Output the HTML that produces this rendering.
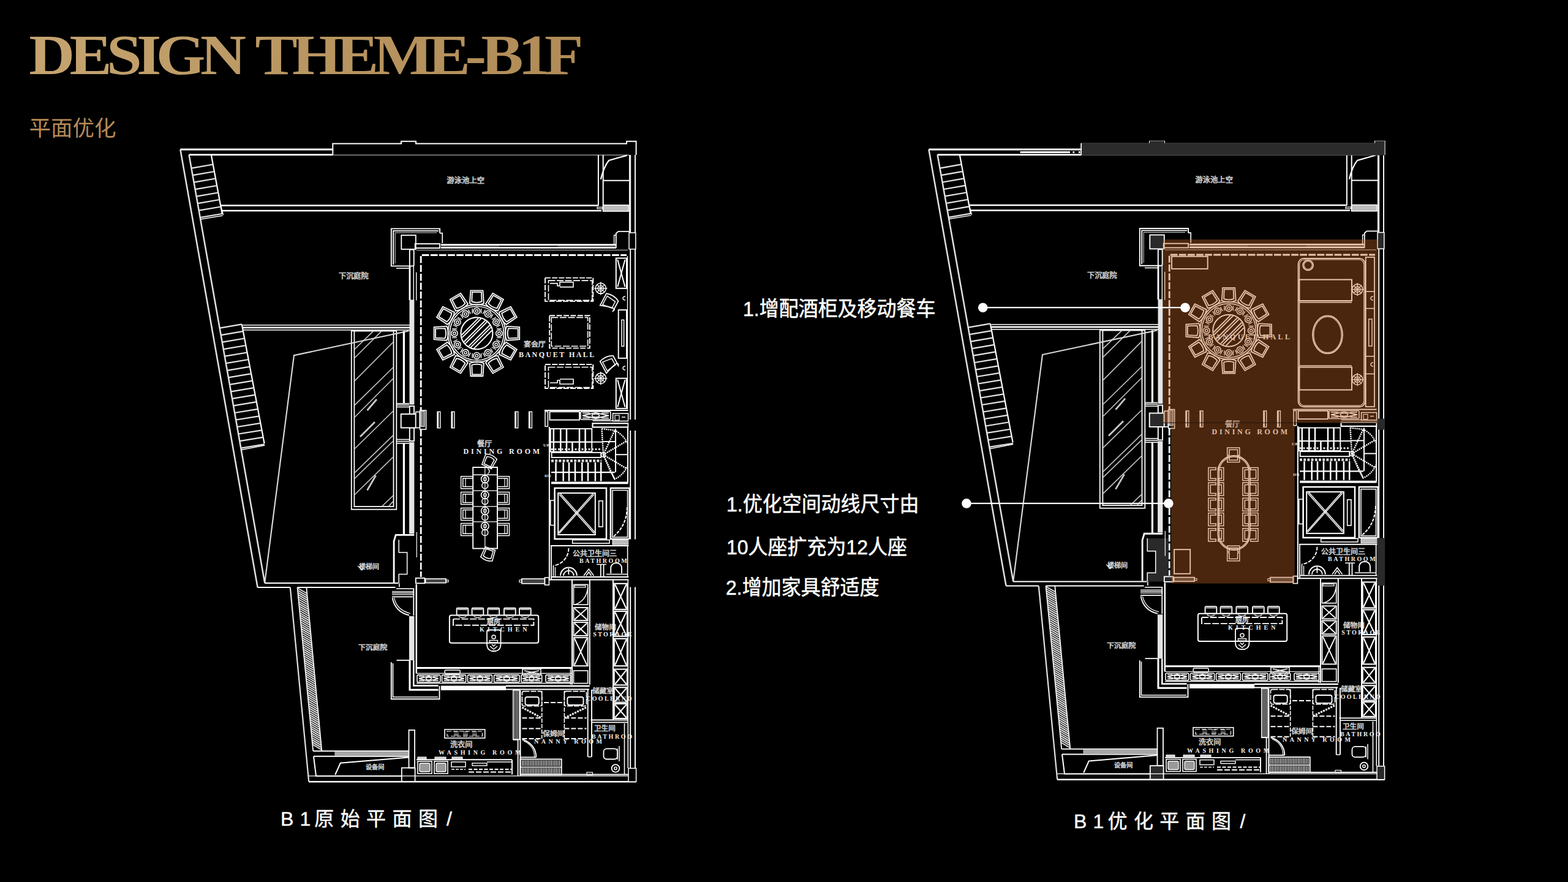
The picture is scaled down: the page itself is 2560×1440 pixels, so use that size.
<!DOCTYPE html><html><head><meta charset="utf-8"><title>DESIGN THEME-B1F</title><style>html,body{margin:0;padding:0;background:#000}body{width:2560px;height:1440px;overflow:hidden;position:relative;font-family:"Liberation Sans",sans-serif}svg{position:absolute;left:0;top:0}</style></head><body><svg width="2560" height="1440" viewBox="0 0 2560 1440"><defs><linearGradient id="gold1" x1="0" x2="1" y1="0" y2="0"><stop offset="0" stop-color="#c5a470"/><stop offset="1" stop-color="#bc9a65"/></linearGradient><linearGradient id="gold2" x1="0" x2="1" y1="0" y2="0"><stop offset="0" stop-color="#bb9863"/><stop offset="1" stop-color="#b08b57"/></linearGradient><g id="shell" fill="none" stroke="#fff"><path d="M294.4 244L544 244" stroke-width="2.8"/>
<path d="M543.3 253L543.3 234.6L655 234.6L655 230.8L679 230.8L679 234.6L1023 234.6L1023 230.8L1038.6 230.8L1038.6 253" stroke-width="2"/>
<path d="M308.6 252.6L543.3 252.6" stroke-width="2.8"/>
<path d="M543.3 253.2L1027.5 253.2" stroke-width="1.2" stroke="#aaa"/>
<path d="M294.4 244L420.6 959" stroke-width="2.5" stroke="#e2e2e2"/>
<path d="M308.6 252.6L432.3 952" stroke-width="2.5" stroke="#e2e2e2"/>
<path d="M344.8 252.6L362.8 349.7" stroke-width="2.2"/>
<path d="M312.5 274.7L347.7 268.5" stroke-width="2.2" stroke="#e6e6e6"/>
<path d="M314.5 286.2L349.9 280" stroke-width="2.2" stroke="#e6e6e6"/>
<path d="M316.6 297.7L352 291.5" stroke-width="2.2" stroke="#e6e6e6"/>
<path d="M318.6 309.2L354.1 303" stroke-width="2.2" stroke="#e6e6e6"/>
<path d="M320.6 320.7L356.3 314.5" stroke-width="2.2" stroke="#e6e6e6"/>
<path d="M322.7 332.2L358.4 326" stroke-width="2.2" stroke="#e6e6e6"/>
<path d="M324.7 343.7L360.5 337.5" stroke-width="2.2" stroke="#e6e6e6"/>
<path d="M326.7 355.2L362.7 349" stroke-width="2.2" stroke="#e6e6e6"/>
<path d="M327.2 358L363.5 352" stroke-width="1.5"/>
<path d="M360.5 336L364.5 351" stroke-width="1.5"/>
<path d="M361 335.4L977 335.4" stroke-width="2.5"/>
<path d="M362.5 343.9L982 343.9" stroke-width="2.5"/>
<path d="M394.8 529.4L431.6 724" stroke-width="2.2"/>
<path d="M358.7 535.6L394.8 529.4" stroke-width="2.2" stroke="#e6e6e6"/>
<path d="M360.7 547.1L397 540.9" stroke-width="2.2" stroke="#e6e6e6"/>
<path d="M362.7 558.7L399.2 552.5" stroke-width="2.2" stroke="#e6e6e6"/>
<path d="M364.8 570.2L401.3 564" stroke-width="2.2" stroke="#e6e6e6"/>
<path d="M366.8 581.7L403.5 575.5" stroke-width="2.2" stroke="#e6e6e6"/>
<path d="M368.9 593.2L405.7 587" stroke-width="2.2" stroke="#e6e6e6"/>
<path d="M370.9 604.8L407.9 598.6" stroke-width="2.2" stroke="#e6e6e6"/>
<path d="M372.9 616.3L410.1 610.1" stroke-width="2.2" stroke="#e6e6e6"/>
<path d="M375 627.8L412.2 621.6" stroke-width="2.2" stroke="#e6e6e6"/>
<path d="M377 639.4L414.4 633.2" stroke-width="2.2" stroke="#e6e6e6"/>
<path d="M379.1 650.9L416.6 644.7" stroke-width="2.2" stroke="#e6e6e6"/>
<path d="M381.1 662.4L418.8 656.2" stroke-width="2.2" stroke="#e6e6e6"/>
<path d="M383.1 674L421 667.8" stroke-width="2.2" stroke="#e6e6e6"/>
<path d="M385.2 685.5L423.1 679.3" stroke-width="2.2" stroke="#e6e6e6"/>
<path d="M387.2 697L425.3 690.8" stroke-width="2.2" stroke="#e6e6e6"/>
<path d="M389.3 708.5L427.5 702.3" stroke-width="2.2" stroke="#e6e6e6"/>
<path d="M391.3 720.1L429.7 713.9" stroke-width="2.2" stroke="#e6e6e6"/>
<path d="M393.3 731.6L431.8 725.4" stroke-width="2.2" stroke="#e6e6e6"/>
<path d="M393.8 734.5L432.3 727" stroke-width="1.5"/>
<path d="M396.4 530.8L669 530.8" stroke-width="1.5"/>
<path d="M396.4 534.8L669 534.8" stroke-width="2.8"/>
<path d="M396.4 538.8L669 538.8" stroke-width="1.5"/>
<rect x="573.8" y="540.3" width="73.5" height="291.4" stroke-width="1.8"/>
<rect x="578.4" y="540.3" width="64.1" height="286.7" stroke-width="1.8"/>
<path d="M579.2 570L609.5 540.6" stroke-width="1.6" stroke="#c8c8c8"/>
<path d="M579.2 584L623 540.6" stroke-width="1.6" stroke="#c8c8c8"/>
<path d="M579.2 621.6L642 558.5" stroke-width="1.6" stroke="#c8c8c8"/>
<path d="M579.2 661.4L642 599.7" stroke-width="1.6" stroke="#c8c8c8"/>
<path d="M579.2 681L642 618" stroke-width="1.6" stroke="#c8c8c8"/>
<path d="M579.2 732.5L642 671" stroke-width="1.6" stroke="#c8c8c8"/>
<path d="M579.2 771.6L642 710.6" stroke-width="1.6" stroke="#c8c8c8"/>
<path d="M579.2 781L642 720" stroke-width="1.6" stroke="#c8c8c8"/>
<path d="M579.2 807.5L642 746" stroke-width="1.6" stroke="#c8c8c8"/>
<path d="M623.8 826.5L642 809" stroke-width="1.6" stroke="#c8c8c8"/>
<path d="M634.7 826.5L642 818.4" stroke-width="1.6" stroke="#c8c8c8"/>
<path d="M599.5 670L615 652" stroke-width="2.8" stroke="#c8c8c8"/>
<path d="M588 713L612 689" stroke-width="2.8" stroke="#c8c8c8"/>
<path d="M599.5 800.5L613.6 776.2" stroke-width="2.8" stroke="#c8c8c8"/>
<path d="M667.5 540.3L480 580.2L432.3 951" stroke-width="2.1" stroke="#dcdcdc"/>
<path d="M420.6 959L473.8 959" stroke-width="2"/>
<path d="M432.3 952L650.3 952" stroke-width="2"/>
<path d="M485.5 959L645.6 959" stroke-width="2"/>
<path d="M473.8 959L504.2 1276.2" stroke-width="2.2" stroke="#e2e2e2"/>
<path d="M485.5 959L511.2 1226.2" stroke-width="1.8"/>
<path d="M500.3 959L525.3 1226.2" stroke-width="1.8"/>
<path d="M485.6 960L501.2 969" stroke-width="1.9" stroke="#e4e4e4"/>
<path d="M486 963.7L501.6 972.7" stroke-width="1.9" stroke="#e4e4e4"/>
<path d="M486.3 967.4L501.9 976.4" stroke-width="1.9" stroke="#e4e4e4"/>
<path d="M486.7 971.1L502.3 980.1" stroke-width="1.9" stroke="#e4e4e4"/>
<path d="M487 974.8L502.6 983.8" stroke-width="1.9" stroke="#e4e4e4"/>
<path d="M487.4 978.5L503 987.5" stroke-width="1.9" stroke="#e4e4e4"/>
<path d="M487.7 982.2L503.3 991.2" stroke-width="1.9" stroke="#e4e4e4"/>
<path d="M488.1 985.9L503.7 994.9" stroke-width="1.9" stroke="#e4e4e4"/>
<path d="M488.4 989.6L504 998.6" stroke-width="1.9" stroke="#e4e4e4"/>
<path d="M488.8 993.3L504.3 1002.3" stroke-width="1.9" stroke="#e4e4e4"/>
<path d="M489.2 997L504.7 1006" stroke-width="1.9" stroke="#e4e4e4"/>
<path d="M489.5 1000.7L505 1009.7" stroke-width="1.9" stroke="#e4e4e4"/>
<path d="M489.9 1004.4L505.4 1013.4" stroke-width="1.9" stroke="#e4e4e4"/>
<path d="M490.2 1008.1L505.7 1017.1" stroke-width="1.9" stroke="#e4e4e4"/>
<path d="M490.6 1011.8L506.1 1020.8" stroke-width="1.9" stroke="#e4e4e4"/>
<path d="M490.9 1015.5L506.4 1024.5" stroke-width="1.9" stroke="#e4e4e4"/>
<path d="M491.3 1019.2L506.8 1028.2" stroke-width="1.9" stroke="#e4e4e4"/>
<path d="M491.7 1022.9L507.1 1031.9" stroke-width="1.9" stroke="#e4e4e4"/>
<path d="M492 1026.6L507.5 1035.6" stroke-width="1.9" stroke="#e4e4e4"/>
<path d="M492.4 1030.3L507.8 1039.3" stroke-width="1.9" stroke="#e4e4e4"/>
<path d="M492.7 1034L508.2 1043" stroke-width="1.9" stroke="#e4e4e4"/>
<path d="M493.1 1037.7L508.5 1046.7" stroke-width="1.9" stroke="#e4e4e4"/>
<path d="M493.4 1041.4L508.8 1050.4" stroke-width="1.9" stroke="#e4e4e4"/>
<path d="M493.8 1045.1L509.2 1054.1" stroke-width="1.9" stroke="#e4e4e4"/>
<path d="M494.1 1048.8L509.5 1057.8" stroke-width="1.9" stroke="#e4e4e4"/>
<path d="M494.5 1052.5L509.9 1061.5" stroke-width="1.9" stroke="#e4e4e4"/>
<path d="M494.9 1056.2L510.2 1065.2" stroke-width="1.9" stroke="#e4e4e4"/>
<path d="M495.2 1059.9L510.6 1068.9" stroke-width="1.9" stroke="#e4e4e4"/>
<path d="M495.6 1063.6L510.9 1072.6" stroke-width="1.9" stroke="#e4e4e4"/>
<path d="M495.9 1067.3L511.3 1076.3" stroke-width="1.9" stroke="#e4e4e4"/>
<path d="M496.3 1071L511.6 1080" stroke-width="1.9" stroke="#e4e4e4"/>
<path d="M496.6 1074.7L512 1083.7" stroke-width="1.9" stroke="#e4e4e4"/>
<path d="M497 1078.4L512.3 1087.4" stroke-width="1.9" stroke="#e4e4e4"/>
<path d="M497.4 1082.1L512.7 1091.1" stroke-width="1.9" stroke="#e4e4e4"/>
<path d="M497.7 1085.8L513 1094.8" stroke-width="1.9" stroke="#e4e4e4"/>
<path d="M498.1 1089.5L513.3 1098.5" stroke-width="1.9" stroke="#e4e4e4"/>
<path d="M498.4 1093.2L513.7 1102.2" stroke-width="1.9" stroke="#e4e4e4"/>
<path d="M498.8 1096.9L514 1105.9" stroke-width="1.9" stroke="#e4e4e4"/>
<path d="M499.1 1100.6L514.4 1109.6" stroke-width="1.9" stroke="#e4e4e4"/>
<path d="M499.5 1104.3L514.7 1113.3" stroke-width="1.9" stroke="#e4e4e4"/>
<path d="M499.8 1108L515.1 1117" stroke-width="1.9" stroke="#e4e4e4"/>
<path d="M500.2 1111.7L515.4 1120.7" stroke-width="1.9" stroke="#e4e4e4"/>
<path d="M500.6 1115.4L515.8 1124.4" stroke-width="1.9" stroke="#e4e4e4"/>
<path d="M500.9 1119.1L516.1 1128.1" stroke-width="1.9" stroke="#e4e4e4"/>
<path d="M501.3 1122.8L516.5 1131.8" stroke-width="1.9" stroke="#e4e4e4"/>
<path d="M501.6 1126.5L516.8 1135.5" stroke-width="1.9" stroke="#e4e4e4"/>
<path d="M502 1130.2L517.1 1139.2" stroke-width="1.9" stroke="#e4e4e4"/>
<path d="M502.3 1133.9L517.5 1142.9" stroke-width="1.9" stroke="#e4e4e4"/>
<path d="M502.7 1137.6L517.8 1146.6" stroke-width="1.9" stroke="#e4e4e4"/>
<path d="M503.1 1141.3L518.2 1150.3" stroke-width="1.9" stroke="#e4e4e4"/>
<path d="M503.4 1145L518.5 1154" stroke-width="1.9" stroke="#e4e4e4"/>
<path d="M503.8 1148.7L518.9 1157.7" stroke-width="1.9" stroke="#e4e4e4"/>
<path d="M504.1 1152.4L519.2 1161.4" stroke-width="1.9" stroke="#e4e4e4"/>
<path d="M504.5 1156.1L519.6 1165.1" stroke-width="1.9" stroke="#e4e4e4"/>
<path d="M504.8 1159.8L519.9 1168.8" stroke-width="1.9" stroke="#e4e4e4"/>
<path d="M505.2 1163.5L520.3 1172.5" stroke-width="1.9" stroke="#e4e4e4"/>
<path d="M505.5 1167.2L520.6 1176.2" stroke-width="1.9" stroke="#e4e4e4"/>
<path d="M505.9 1170.9L521 1179.9" stroke-width="1.9" stroke="#e4e4e4"/>
<path d="M506.3 1174.6L521.3 1183.6" stroke-width="1.9" stroke="#e4e4e4"/>
<path d="M506.6 1178.3L521.6 1187.3" stroke-width="1.9" stroke="#e4e4e4"/>
<path d="M507 1182L522 1191" stroke-width="1.9" stroke="#e4e4e4"/>
<path d="M507.3 1185.7L522.3 1194.7" stroke-width="1.9" stroke="#e4e4e4"/>
<path d="M507.7 1189.4L522.7 1198.4" stroke-width="1.9" stroke="#e4e4e4"/>
<path d="M508 1193.1L523 1202.1" stroke-width="1.9" stroke="#e4e4e4"/>
<path d="M508.4 1196.8L523.4 1205.8" stroke-width="1.9" stroke="#e4e4e4"/>
<path d="M508.8 1200.5L523.7 1209.5" stroke-width="1.9" stroke="#e4e4e4"/>
<path d="M509.1 1204.2L524.1 1213.2" stroke-width="1.9" stroke="#e4e4e4"/>
<path d="M509.5 1207.9L524.4 1216.9" stroke-width="1.9" stroke="#e4e4e4"/>
<path d="M509.8 1211.6L524.8 1220.6" stroke-width="1.9" stroke="#e4e4e4"/>
<path d="M510.2 1215.3L525.1 1224.3" stroke-width="1.9" stroke="#e4e4e4"/>
<path d="M504.2 1276.2L1038.6 1276.2" stroke-width="2.5"/>
<path d="M511.2 1226.2L667.5 1226.2" stroke-width="1.9"/>
<path d="M512 1234.8L667.5 1234.8" stroke-width="1.9"/>
<rect x="546.4" y="1227.2" width="121.1" height="6.6" stroke-width="0.1" fill="#a8a8a8"/>
<path d="M512 1234.8L516 1266.9L655 1266.9" stroke-width="2"/>
<path d="M547.2 1265L555.8 1245.8L667.5 1236.4" stroke-width="2"/>
<rect x="655.8" y="1253.6" width="21.8" height="22.4" stroke-width="1.8" style="fill:var(--pil)"/>
<rect x="667.5" y="1192" width="9.5" height="61.6" stroke-width="1.8"/>
<path d="M1029.2 253L1029.2 1254" stroke-width="1.9"/>
<path d="M1037 253L1037 1254" stroke-width="1.9"/>
<rect x="1027" y="380" width="10.8" height="26.7" stroke-width="1.5" style="fill:var(--pil)"/>
<rect x="1026" y="1254.4" width="12.6" height="21.8" stroke-width="1.5" style="fill:var(--pil)"/>
<path d="M976.9 253L976.9 335.6" stroke-width="2"/>
<path d="M984.7 253L984.7 345" stroke-width="2"/>
<path d="M1023.7 253.6L994 262Q986 272 980.8 292.7" stroke-width="2.2"/>
<path d="M984.7 294.7L1027.7 294.7" stroke-width="1.9"/>
<rect x="984.7" y="334.8" width="41.3" height="10.2" stroke-width="1.5" fill="#bdbdbd"/>
<rect x="975" y="338.3" width="9" height="2.5" stroke-width="1.2"/>
<path d="M1027.7 253L1027.7 380" stroke-width="1.5"/>
<path d="M718.1 380.6L718.1 373.4L638.8 373.4L638.8 434.4L668 434.4" stroke-width="1.9"/>
<path d="M716 376.9L642.2 376.9L642.2 432" stroke-width="1.8"/>
<path d="M713 379.8L645.2 379.8L645.2 430" stroke-width="1.2" stroke="#bbb"/>
<path d="M718.1 380.6L722.2 380.6L722.2 397" stroke-width="1.6"/>
<rect x="655.3" y="384" width="23.5" height="22.9" stroke-width="1.8" style="fill:var(--pil)"/>
<rect x="677.8" y="398.1" width="40.3" height="6.9" stroke-width="1.9"/>
<path d="M720 399.7L1005.8 399.7" stroke-width="3"/>
<path d="M720 404.3L1005.8 404.3" stroke-width="3"/>
<path d="M815 402L910.5 402" stroke-width="1.5" stroke="#000"/>
<path d="M680 408.4L1025 408.4" stroke-width="1.2" stroke="#aaa"/>
<rect x="668.8" y="407.5" width="6.9" height="26.9" stroke-width="1.9" rx="2"/>
<path d="M646.9 438L668 438" stroke-width="1.6"/>
<path d="M669 434L669 490" stroke-width="2.8"/>
<path d="M675.3 434L675.3 490" stroke-width="1.4"/>
<path d="M679.7 444.4L679.7 490.6" stroke-width="1.4"/>
<rect x="668.6" y="489.4" width="7.7" height="171.2" stroke-width="0.1" fill="#e4e4e4"/>
<path d="M659.4 540.3L659.4 658.8" stroke-width="3.2"/>
<path d="M687.2 418L687.2 670" stroke-width="2.8" stroke-dasharray="11.5 3"/>
<path d="M687.2 701L687.2 942" stroke-width="2.8" stroke-dasharray="11.5 3"/>
<path d="M688.8 416.6L1023 416.6" stroke-width="3" stroke-dasharray="11.7 2.4"/>
<path d="M1005.8 405L1005.8 381L1009.5 377.8L1027 377.8" stroke-width="1.8"/>
<path d="M1002.6 399.5L1002.6 384L1005.8 384" stroke-width="1.4"/>
<path d="M646.9 658.8L668 658.8" stroke-width="1.6"/>
<path d="M646.9 661.3L668 661.3" stroke-width="1.6"/>
<path d="M646.9 664.4L668 664.4" stroke-width="1.6"/>
<rect x="668.8" y="663" width="7.2" height="13.2" stroke-width="1.9"/>
<rect x="668.8" y="698.4" width="7.2" height="21.6" stroke-width="1.9"/>
<rect x="654.7" y="676" width="24" height="22.4" stroke-width="1.9" style="fill:var(--pil)"/>
<rect x="678.8" y="672.5" width="6.5" height="25.9" stroke-width="1.6" style="fill:var(--pil)"/>
<rect x="685.6" y="670" width="10" height="31" stroke-width="1.6"/>
<rect x="687.2" y="671.3" width="5.9" height="25" stroke-width="1" fill="#777"/>
<path d="M646.9 717.5L668 717.5" stroke-width="1.6"/>
<path d="M646.9 720.6L668 720.6" stroke-width="1.6"/>
<path d="M646.9 723.8L668 723.8" stroke-width="1.6"/>
<path d="M659.4 723.8L659.4 873.1" stroke-width="3.2"/>
<rect x="668.1" y="721.9" width="8.2" height="149.4" stroke-width="0.1" fill="#e4e4e4"/>
<path d="M676.2 873.4L646.2 873.4L643.1 883.8L643.1 951" stroke-width="2.8"/>
<path d="M651.25 881.25H685.5V952H651.25V937.5H664.7V901.9H651.25Z" stroke="none" style="fill:var(--pil)"/>
<path d="M651.2 881.2L651.2 901.9L664.7 901.9L664.7 937.5L651.2 937.5L651.2 952" stroke-width="1.5"/>
<path d="M680.3 868.8L680.3 910" stroke-width="1.2"/>
<rect x="678.8" y="943.8" width="14.6" height="8.5" stroke-width="1.8" style="fill:var(--pil)"/>
<rect x="694.7" y="945" width="33.4" height="6.6" stroke-width="1.6" fill="#444"/>
<rect x="728.1" y="947" width="3.9" height="3" stroke-width="1.2"/>
<rect x="851.9" y="945" width="37.5" height="7.8" stroke-width="1.6" fill="#444"/>
<rect x="848" y="947" width="3.9" height="3.6" stroke-width="1.2"/>
<rect x="889.4" y="943" width="7" height="12" stroke-width="1.6"/>
<path d="M651.9 952.2L651.9 958.4" stroke-width="1.6"/>
<path d="M646.9 961.2L676.2 961.2" stroke-width="1.6"/>
<path d="M640 965.6L676.2 965.6" stroke-width="1.4"/>
<path d="M640 968L676.2 968" stroke-width="1.4"/>
<path d="M640 970.6L676.2 970.6" stroke-width="1.4"/>
<path d="M640 974.4L673.8 974.4" stroke-width="1.6"/>
<path d="M675.3 961L675.3 1005" stroke-width="1.8"/>
<path d="M640.6 976Q645 999 668 1004.5" stroke-width="1.8"/>
<path d="M643.5 976Q648 996.5 670 1001.5" stroke-width="1.2"/>
<path d="M679.8 953.8L679.8 1099.4" stroke-width="2.5"/>
<rect x="668" y="1006" width="8.3" height="72" stroke-width="0.1" fill="#e4e4e4"/>
<path d="M647.5 1078L668 1078" stroke-width="1.8"/>
<path d="M638.8 1081.2L638.8 1141.2L717.5 1141.2L717.5 1120" stroke-width="1.9"/>
<path d="M641.5 1083L641.5 1138L715 1138" stroke-width="1.6"/>
<path d="M669 1078L669 1126.2L715.6 1126.2" stroke-width="3"/>
<path d="M675.3 1078L675.3 1119.4L715.6 1119.4" stroke-width="2.5"/>
<path d="M680 1099.4L934 1099.4" stroke-width="1.2"/>
<path d="M680 1090.6L934 1090.6" stroke-width="3"/>
<rect x="681" y="1101.9" width="37.8" height="11.8" stroke-width="1.6" rx="2"/>
<path d="M684 1107.8L699.9 1103.9L715.8 1107.8L699.9 1111.8Z" stroke-width="1.9"/>
<ellipse cx="699.9" cy="1107.8" rx="4.4" ry="2.2" stroke-width="1.6"/>
<path d="M684 1104.4L692.7 1104.4" stroke-width="1.6"/>
<path d="M707 1104.4L715.8 1104.4" stroke-width="1.6"/>
<path d="M684 1111.2L692.7 1111.2" stroke-width="1.6"/>
<path d="M707 1111.2L715.8 1111.2" stroke-width="1.6"/>
<rect x="721.6" y="1101.9" width="39" height="11.8" stroke-width="1.6" rx="2"/>
<path d="M724.6 1107.8L741.1 1103.9L757.6 1107.8L741.1 1111.8Z" stroke-width="1.9"/>
<ellipse cx="741.1" cy="1107.8" rx="4.6" ry="2.2" stroke-width="1.6"/>
<path d="M724.6 1104.4L733.7 1104.4" stroke-width="1.6"/>
<path d="M748.5 1104.4L757.6 1104.4" stroke-width="1.6"/>
<path d="M724.6 1111.2L733.7 1111.2" stroke-width="1.6"/>
<path d="M748.5 1111.2L757.6 1111.2" stroke-width="1.6"/>
<rect x="763.6" y="1101.9" width="39.8" height="11.8" stroke-width="1.6" rx="2"/>
<path d="M766.6 1107.8L783.5 1103.9L800.4 1107.8L783.5 1111.8Z" stroke-width="1.9"/>
<ellipse cx="783.5" cy="1107.8" rx="4.7" ry="2.2" stroke-width="1.6"/>
<path d="M766.6 1104.4L775.9 1104.4" stroke-width="1.6"/>
<path d="M791.1 1104.4L800.4 1104.4" stroke-width="1.6"/>
<path d="M766.6 1111.2L775.9 1111.2" stroke-width="1.6"/>
<path d="M791.1 1111.2L800.4 1111.2" stroke-width="1.6"/>
<rect x="806.6" y="1101.9" width="41.4" height="11.8" stroke-width="1.6" rx="2"/>
<path d="M809.6 1107.8L827.3 1103.9L845 1107.8L827.3 1111.8Z" stroke-width="1.9"/>
<ellipse cx="827.3" cy="1107.8" rx="5" ry="2.2" stroke-width="1.6"/>
<path d="M809.6 1104.4L819.3 1104.4" stroke-width="1.6"/>
<path d="M835.3 1104.4L845 1104.4" stroke-width="1.6"/>
<path d="M809.6 1111.2L819.3 1111.2" stroke-width="1.6"/>
<path d="M835.3 1111.2L845 1111.2" stroke-width="1.6"/>
<rect x="851" y="1101.9" width="33.7" height="11.8" stroke-width="1.6" rx="2"/>
<path d="M854 1107.8L867.9 1103.9L881.7 1107.8L867.9 1111.8Z" stroke-width="1.9"/>
<ellipse cx="867.9" cy="1107.8" rx="3.9" ry="2.2" stroke-width="1.6"/>
<path d="M854 1104.4L861.6 1104.4" stroke-width="1.6"/>
<path d="M874.1 1104.4L881.7 1104.4" stroke-width="1.6"/>
<path d="M854 1111.2L861.6 1111.2" stroke-width="1.6"/>
<path d="M874.1 1111.2L881.7 1111.2" stroke-width="1.6"/>
<rect x="891" y="1101.9" width="40.6" height="11.8" stroke-width="1.6" rx="2"/>
<path d="M894 1107.8L911.3 1103.9L928.6 1107.8L911.3 1111.8Z" stroke-width="1.9"/>
<ellipse cx="911.3" cy="1107.8" rx="4.8" ry="2.2" stroke-width="1.6"/>
<path d="M894 1104.4L903.5 1104.4" stroke-width="1.6"/>
<path d="M919.1 1104.4L928.6 1104.4" stroke-width="1.6"/>
<path d="M894 1111.2L903.5 1111.2" stroke-width="1.6"/>
<path d="M919.1 1111.2L928.6 1111.2" stroke-width="1.6"/>
<rect x="726.2" y="1094" width="25" height="6" stroke-width="1.5" rx="1.5"/>
<rect x="853" y="1092.5" width="30" height="9" stroke-width="1.5"/>
<path d="M856 1095L880 1100" stroke-width="1.5"/>
<path d="M880 1095L856 1100" stroke-width="1.5"/>
<path d="M680 1115.5L934 1115.5" stroke-width="1.6"/>
<rect x="720" y="1119.6" width="106" height="7.3" stroke-width="0.1" fill="#fff"/>
<path d="M826 1120L962.8 1120" stroke-width="2.5"/>
<path d="M826 1125.5L962 1125.5" stroke-width="1.8"/>
<rect x="714" y="672.2" width="4.8" height="26.5" stroke-width="1.4"/>
<path d="M715.2 673L715.2 698" stroke-width="2"/>
<rect x="737.1" y="672.2" width="4.8" height="26.5" stroke-width="1.4"/>
<path d="M738.3 673L738.3 698" stroke-width="2"/>
<rect x="840.9" y="672.2" width="4.8" height="26.5" stroke-width="1.4"/>
<path d="M842.1 673L842.1 698" stroke-width="2"/>
<rect x="863.6" y="672.2" width="4.8" height="26.5" stroke-width="1.4"/>
<path d="M864.8 673L864.8 698" stroke-width="2"/>
<path d="M888.8 670L1025.6 670" stroke-width="1.9"/>
<rect x="897.5" y="672.2" width="48.5" height="13.4" stroke-width="1.9"/>
<rect x="948" y="671.9" width="48.9" height="13.1" stroke-width="1.6" rx="2"/>
<path d="M951 678.5L972.5 673.9L993.9 678.5L972.5 683Z" stroke-width="1.9"/>
<ellipse cx="972.5" cy="678.5" rx="6" ry="2.5" stroke-width="1.6"/>
<path d="M951 674.4L962.8 674.4" stroke-width="1.6"/>
<path d="M982.1 674.4L993.9 674.4" stroke-width="1.6"/>
<path d="M951 682.5L962.8 682.5" stroke-width="1.6"/>
<path d="M982.1 682.5L993.9 682.5" stroke-width="1.6"/>
<rect x="1000.6" y="675" width="25" height="12.5" stroke-width="1.6"/>
<rect x="1004" y="678" width="7" height="8" stroke-width="1.2"/>
<path d="M1015 681L1021 681" stroke-width="1.5"/>
<rect x="890" y="671.9" width="4.4" height="24.4" stroke-width="1.5"/>
<path d="M967.5 686.9L1000 686.9" stroke-width="1.5"/>
<rect x="967.5" y="691.2" width="58.1" height="6.2" stroke-width="2.2"/>
<path d="M896.9 697L896.9 948" stroke-width="2"/>
<rect x="898.8" y="700" width="67.5" height="37.5" stroke-width="1.9"/>
<path d="M903.8 700L903.8 737.5" stroke-width="2.5"/>
<path d="M915.3 700L915.3 737.5" stroke-width="2.5"/>
<path d="M925 700L925 737.5" stroke-width="2.5"/>
<path d="M946 700L946 737.5" stroke-width="2.5"/>
<path d="M955.6 700L955.6 737.5" stroke-width="2.5"/>
<path d="M934.4 722L934.4 737.5" stroke-width="2.5"/>
<path d="M898.8 721.6L966.2 721.6" stroke-width="2.2"/>
<path d="M900 733.5L980 733.5" stroke-width="3" stroke="#ddd" stroke-dasharray="3 2.5"/>
<rect x="900.6" y="738.8" width="80.6" height="8.1" stroke-width="1.9"/>
<path d="M900 752.3L982 752.3" stroke-width="4.2" stroke="#ddd" stroke-dasharray="4 2.2"/>
<path d="M907.5 755L907.5 785.6" stroke-width="2.5"/>
<path d="M919.7 755L919.7 785.6" stroke-width="2.5"/>
<path d="M929 755L929 785.6" stroke-width="2.5"/>
<path d="M939 755L939 785.6" stroke-width="2.5"/>
<path d="M950.3 755L950.3 785.6" stroke-width="2.5"/>
<path d="M960 755L960 785.6" stroke-width="2.5"/>
<path d="M971.9 755L971.9 785.6" stroke-width="2.5"/>
<path d="M981.2 755L981.2 785.6" stroke-width="2.5"/>
<path d="M900 771.2L1003.8 771.2" stroke-width="2.2"/>
<path d="M900 788.4L1025.6 788.4" stroke-width="3.8"/>
<path d="M1005 700L1005 771" stroke-width="2"/>
<path d="M1025 697.5L1025 788" stroke-width="2"/>
<path d="M985 721L1005 721" stroke-width="1.9"/>
<path d="M1005 742.2L1025 742.2" stroke-width="1.9"/>
<path d="M966.2 721.6L985 721.6" stroke-width="1.9"/>
<path d="M985 742.5L982.5 700" stroke-width="2.5" stroke-dasharray="2.2 1.2"/>
<path d="M985 742.5L1003.6 702.6" stroke-width="2.5" stroke-dasharray="2.2 1.2"/>
<path d="M985 742.5L1023 720" stroke-width="2.5" stroke-dasharray="2.2 1.2"/>
<path d="M985 742.5L1023 765" stroke-width="2.5" stroke-dasharray="2.2 1.2"/>
<path d="M985 742.5L1003.6 782.4" stroke-width="2.5" stroke-dasharray="2.2 1.2"/>
<path d="M985 742.5L996.9 770" stroke-width="2.5" stroke-dasharray="2.2 1.2"/>
<path d="M982.5 700L1003.6 702.6A44 44 0 0 1 1025 725" stroke-width="2.2" stroke-dasharray="2.2 1.2"/>
<path d="M1025 760A44 44 0 0 1 1003.6 782.4L996.9 770" stroke-width="2.2" stroke-dasharray="2.2 1.2"/>
<circle cx="985" cy="742.5" r="3.5" stroke-width="1.6"/>
<rect x="905.6" y="796.9" width="84.4" height="83.1" stroke-width="2.5"/>
<rect x="911.2" y="805" width="60.6" height="68" stroke-width="2"/>
<path d="M913 807L970 871" stroke-width="1.5"/>
<path d="M915 806L972 870" stroke-width="1.5"/>
<path d="M970 807L913 871" stroke-width="1.5"/>
<path d="M968 806L911.5 870" stroke-width="1.5"/>
<rect x="977.7" y="817.7" width="6.3" height="42.3" stroke-width="1.6"/>
<rect x="898.8" y="817" width="6.9" height="40.5" stroke-width="1.5"/>
<rect x="996.9" y="796.9" width="30.7" height="83.1" stroke-width="2.5"/>
<rect x="1000" y="800.5" width="24.5" height="76.5" stroke-width="1.5"/>
<path d="M1024 828Q1023 860 1000 877" stroke-width="2" stroke-dasharray="5 2"/>
<rect x="934.7" y="881.5" width="60.3" height="5.5" stroke-width="1.6"/>
<rect x="1000" y="881" width="27" height="8" stroke-width="1" fill="#bbb"/>
<path d="M898.8 891L1027 891" stroke-width="1.9"/>
<path d="M900 891L900 946" stroke-width="1.8"/>
<path d="M928.4 895A28.4 28.4 0 0 1 903.4 923.5" stroke-width="1.9" stroke-dasharray="6 2"/>
<path d="M903.4 923.5L903.4 942" stroke-width="1.6"/>
<path d="M906.5 926L906.5 942" stroke-width="1.4"/>
<path d="M900 942L1027 942" stroke-width="2"/>
<path d="M896.4 946.6L1027 946.6" stroke-width="2"/>
<path d="M915 940A13.4 13.4 0 0 1 941.8 940" stroke-width="2"/>
<path d="M920 940A8.4 8.4 0 0 1 936.8 940" stroke-width="1.8"/>
<path d="M928.4 928L928.4 938" stroke-width="1.8"/>
<path d="M953 940L961.3 929L969.5 940M957 940L961.3 934L965.5 940" stroke-width="1.6"/>
<path d="M980.8 921.5L980.8 942" stroke-width="1.8"/>
<path d="M985.5 921.5L985.5 942" stroke-width="1.8"/>
<path d="M974 921.5L990 921.5" stroke-width="1.5"/>
<path d="M997.2 936V927A8.9 8 0 0 1 1015 927V936" stroke-width="1.9"/>
<path d="M990 937.5L1024 937.5" stroke-width="1.5"/>
<path d="M934 946.6L934 1117.7" stroke-width="2"/>
<path d="M962.8 946.6L962.8 1117.7" stroke-width="2"/>
<path d="M931.4 1090L931.4 1117.7" stroke-width="1.5"/>
<rect x="936.5" y="954.4" width="23.2" height="32.8" stroke-width="1.6"/>
<path d="M959.7 960Q957 981 939 987" stroke-width="1.6"/>
<rect x="938" y="956" width="18" height="3" stroke-width="1.2"/>
<rect x="936.5" y="991.9" width="23.2" height="21.1" stroke-width="1.9"/>
<path d="M938 993.4L958.2 1011.5" stroke-width="1.9"/>
<path d="M958.2 993.4L938 1011.5" stroke-width="1.9"/>
<rect x="936.5" y="1016" width="23.2" height="22" stroke-width="1.9"/>
<path d="M938 1017.5L958.2 1036.5" stroke-width="1.9"/>
<path d="M958.2 1017.5L938 1036.5" stroke-width="1.9"/>
<rect x="936.5" y="1041" width="23.2" height="46.2" stroke-width="1.9"/>
<path d="M938 1042.5L958.2 1085.7" stroke-width="1.9"/>
<path d="M958.2 1042.5L938 1085.7" stroke-width="1.9"/>
<rect x="936.5" y="1095" width="23.2" height="20.6" stroke-width="1.6"/>
<path d="M1001 946.6L1001 1175" stroke-width="2"/>
<path d="M1025.3 946.6L1025.3 1254" stroke-width="1.6"/>
<rect x="1002.7" y="952.8" width="21.3" height="42.2" stroke-width="2.1"/>
<path d="M1004.2 954.3L1022.5 993.5" stroke-width="2.1"/>
<path d="M1022.5 954.3L1004.2 993.5" stroke-width="2.1"/>
<rect x="1002.7" y="998" width="21.3" height="40.8" stroke-width="2.1"/>
<path d="M1004.2 999.5L1022.5 1037.2" stroke-width="2.1"/>
<path d="M1022.5 999.5L1004.2 1037.2" stroke-width="2.1"/>
<rect x="1002.7" y="1042.7" width="21.3" height="44.5" stroke-width="2.1"/>
<path d="M1004.2 1044.2L1022.5 1085.7" stroke-width="2.1"/>
<path d="M1022.5 1044.2L1004.2 1085.7" stroke-width="2.1"/>
<rect x="1002.7" y="1092.6" width="21.3" height="25.8" stroke-width="2.1"/>
<path d="M1004.2 1094.1L1022.5 1116.9" stroke-width="2.1"/>
<path d="M1022.5 1094.1L1004.2 1116.9" stroke-width="2.1"/>
<rect x="1002.7" y="1122.3" width="21.3" height="24.3" stroke-width="2.1"/>
<path d="M1004.2 1123.8L1022.5 1145.1" stroke-width="2.1"/>
<path d="M1022.5 1123.8L1004.2 1145.1" stroke-width="2.1"/>
<rect x="1002.7" y="1149" width="21.3" height="24" stroke-width="2.1"/>
<path d="M1004.2 1150.5L1022.5 1171.5" stroke-width="2.1"/>
<path d="M1022.5 1150.5L1004.2 1171.5" stroke-width="2.1"/>
<path d="M959.7 1126L959.7 1235.6" stroke-width="1.9"/>
<path d="M966 1126L966 1235.6" stroke-width="1.9"/>
<path d="M959.7 1235.6L966 1235.6" stroke-width="1.5"/>
<path d="M964.4 1175.5L1026 1175.5" stroke-width="1.9"/>
<path d="M966 1179.4L1026 1179.4" stroke-width="1.6"/>
<path d="M1019.5 1181L1019.5 1264" stroke-width="1.6"/>
<rect x="985.5" y="1222.3" width="22.5" height="17.2" stroke-width="1.8" rx="5"/>
<path d="M1008 1222L1008 1240" stroke-width="1.6"/>
<path d="M1011 1218L1011 1243" stroke-width="1.5"/>
<circle cx="1005" cy="1254.4" r="6.3" stroke-width="1.8"/>
<circle cx="1005" cy="1254.4" r="2.2" stroke-width="1.5"/>
<rect x="958" y="1261" width="9.5" height="4" stroke-width="1.2"/>
<path d="M849.5 1264.5L1026 1264.5" stroke-width="2"/>
<path d="M504 1266.9L1026 1266.9" stroke-width="1.2"/>
<rect x="837.8" y="1127" width="10.2" height="80.5" stroke-width="1.6"/>
<path d="M840.3 1127L840.3 1207.5" stroke-width="1.2" stroke="#ccc"/>
<path d="M842.8 1127L842.8 1207.5" stroke-width="1.2" stroke="#ccc"/>
<path d="M845.3 1127L845.3 1207.5" stroke-width="1.2" stroke="#ccc"/>
<path d="M837.8 1207.5L845.6 1207.5L845.6 1266.9" stroke-width="1.8"/>
<path d="M849.5 1127L849.5 1266.9" stroke-width="1.9"/>
<rect x="852.5" y="1128.6" width="32.2" height="24.2" stroke-width="1.6" rx="3" stroke-dasharray="9 2"/>
<rect x="857.5" y="1138" width="22.2" height="13" stroke-width="1.9" rx="3"/>
<path d="M852.5 1172.3L884.7 1172.3" stroke-width="2" stroke-dasharray="8 3"/>
<path d="M852.5 1189.5L884.7 1189.5" stroke-width="2" stroke-dasharray="8 3"/>
<path d="M852.5 1205.9L884.7 1205.9" stroke-width="2" stroke-dasharray="8 3"/>
<rect x="921.4" y="1128.6" width="36.1" height="24.2" stroke-width="1.6" rx="3" stroke-dasharray="9 2"/>
<rect x="926.4" y="1138" width="26.1" height="13" stroke-width="1.9" rx="3"/>
<path d="M921.4 1172.3L957.5 1172.3" stroke-width="2" stroke-dasharray="8 3"/>
<path d="M921.4 1189.5L957.5 1189.5" stroke-width="2" stroke-dasharray="8 3"/>
<path d="M921.4 1205.9L957.5 1205.9" stroke-width="2" stroke-dasharray="8 3"/>
<path d="M884.7 1128L884.7 1206" stroke-width="1.6" stroke-dasharray="7 2"/>
<path d="M921.4 1128L921.4 1206" stroke-width="1.6" stroke-dasharray="7 2"/>
<path d="M888 1147L918 1147" stroke-width="1.9" stroke-dasharray="8 3"/>
<path d="M852.5 1155L884 1172" stroke-width="3" stroke-dasharray="3 1.5"/>
<path d="M957 1155L922 1172" stroke-width="3" stroke-dasharray="3 1.5"/>
<path d="M852.6 1207.5A29 29 0 0 1 875.3 1236.4" stroke-width="1.9"/>
<path d="M855 1210A26 26 0 0 1 872.5 1236.4" stroke-width="1.2"/>
<path d="M849.5 1236.4L875.3 1236.4" stroke-width="1.8"/>
<rect x="849.5" y="1239.5" width="67.2" height="25" stroke-width="1.9"/>
<path d="M849.5 1252.4L916.7 1252.4" stroke-width="1.5"/>
<path d="M852 1246L915.5 1246" stroke-width="9.6" stroke="#e8e8e8" stroke-dasharray="1.3 1.35"/>
<path d="M852 1258.6L915.5 1258.6" stroke-width="9.6" stroke="#e8e8e8" stroke-dasharray="1.3 1.35"/>
<rect x="726" y="1191" width="65.7" height="14" stroke-width="1.6"/>
<rect x="730" y="1194" width="57.5" height="8" stroke-width="1.2" stroke-dasharray="7 3"/>
<path d="M741 1195h8M741 1198.5h8M741 1201h8" stroke-width="1.2"/>
<path d="M756 1195h8M756 1198.5h8M756 1201h8" stroke-width="1.2"/>
<path d="M771 1195h8M771 1198.5h8M771 1201h8" stroke-width="1.2"/>
<path d="M680 1240.3L836 1240.3" stroke-width="1.9"/>
<path d="M836 1240.3L836 1264.5" stroke-width="1.9"/>
<rect x="682" y="1243" width="23" height="20" stroke-width="1.6"/>
<rect x="685" y="1246" width="17" height="14" stroke-width="1.4" fill="#999" rx="2"/>
<rect x="709" y="1243" width="22" height="20" stroke-width="1.6"/>
<rect x="712" y="1246" width="16" height="14" stroke-width="1.4" fill="#999" rx="2"/>
<rect x="682" y="1236" width="14" height="3.5" stroke-width="1" fill="#ccc"/>
<rect x="710" y="1236" width="18" height="3.5" stroke-width="1" fill="#ccc"/>
<rect x="738" y="1236" width="17" height="3.5" stroke-width="1" fill="#ccc"/>
<rect x="737" y="1244" width="23" height="8" stroke-width="1.5"/>
<path d="M737 1256L760 1256" stroke-width="1.6" stroke-dasharray="5 2"/>
<rect x="771" y="1246" width="24" height="4" stroke-width="1.4"/>
<path d="M765 1256L835 1256" stroke-width="2" stroke-dasharray="6 2.5"/>
<path d="M765 1260.5L835 1260.5" stroke-width="2" stroke-dasharray="9 3"/>
<path d="M795 1244L836 1244" stroke-width="1.5"/>
<rect x="733.9" y="1004.4" width="145.3" height="45.3" stroke-width="2" rx="3"/>
<rect x="740" y="1010.6" width="131.4" height="10.2" stroke-width="1.9" stroke-dasharray="11 2.6"/>
<rect x="745.6" y="992.7" width="18.7" height="11.7" stroke-width="1.9" rx="1.5"/>
<path d="M747.1 995L762.8 995" stroke-width="1.4"/>
<path d="M748.6 1006.5q6.3 4 12.6 0" stroke-width="1.4"/>
<rect x="770.6" y="992.7" width="18.7" height="11.7" stroke-width="1.9" rx="1.5"/>
<path d="M772.1 995L787.8 995" stroke-width="1.4"/>
<path d="M773.6 1006.5q6.3 4 12.6 0" stroke-width="1.4"/>
<rect x="796.4" y="992.7" width="18.7" height="11.7" stroke-width="1.9" rx="1.5"/>
<path d="M797.9 995L813.6 995" stroke-width="1.4"/>
<path d="M799.4 1006.5q6.3 4 12.6 0" stroke-width="1.4"/>
<rect x="823" y="992.7" width="18.7" height="11.7" stroke-width="1.9" rx="1.5"/>
<path d="M824.5 995L840.2 995" stroke-width="1.4"/>
<path d="M826 1006.5q6.3 4 12.6 0" stroke-width="1.4"/>
<rect x="848" y="992.7" width="18.7" height="11.7" stroke-width="1.9" rx="1.5"/>
<path d="M849.5 995L865.2 995" stroke-width="1.4"/>
<path d="M851 1006.5q6.3 4 12.6 0" stroke-width="1.4"/>
<path d="M795 1031.5q0 -3 3 -3h16.5q3 0 3 3V1052q0 9 -8 11h-6.5q-8 -2 -8 -11Z" stroke-width="1.8"/>
<circle cx="806" cy="1040" r="3" stroke-width="1.5"/>
<rect x="799.5" y="1045.5" width="13" height="3.5" stroke-width="1.4"/>
<path d="M800 1055l6 5l6 -5M803 1052l3 3l3 -3" stroke-width="1.4"/>
<text x="729.5" y="298.5" font-size="12.3" font-family="'Liberation Sans','Noto Sans CJK SC',sans-serif" fill="#fff" stroke="#fff" stroke-width="0.6" opacity="0.8">游泳池上空</text>
<text x="553" y="454.5" font-size="12.2" font-family="'Liberation Sans','Noto Sans CJK SC',sans-serif" fill="#fff" stroke="#fff" stroke-width="0.6" opacity="0.8">下沉庭院</text>
<text x="585" y="1061" font-size="11.85" font-family="'Liberation Sans','Noto Sans CJK SC',sans-serif" fill="#fff" stroke="#fff" stroke-width="0.6" opacity="0.8">下沉庭院</text>
<text x="586" y="929" font-size="11" font-family="'Liberation Sans','Noto Sans CJK SC',sans-serif" fill="#fff" stroke="#fff" stroke-width="0.6" opacity="0.8">楼梯间</text>
<path d="M584 924l8 6l-3 1" stroke-width="1.2"/>
<text x="597" y="1256" font-size="10.1" font-family="'Liberation Sans','Noto Sans CJK SC',sans-serif" fill="#fff" stroke="#fff" stroke-width="0.6" opacity="0.8">设备间</text>
<text x="795" y="1019" font-size="11" font-family="'Liberation Sans','Noto Sans CJK SC',sans-serif" fill="#fff" stroke="#fff" stroke-width="0.6" opacity="0.8">厨房</text>
<text x="783" y="1031" font-size="10" font-weight="bold" letter-spacing="5.05" font-family="'Liberation Serif',serif" stroke="none" fill="#fff" opacity="0.95">KITCHEN</text>
<text x="935" y="907.5" font-size="12" font-family="'Liberation Sans','Noto Sans CJK SC',sans-serif" fill="#fff" stroke="#fff" stroke-width="0.6" opacity="0.8">公共卫生间三</text>
<text x="946" y="918.5" font-size="10" font-weight="bold" letter-spacing="2.55" font-family="'Liberation Serif',serif" stroke="none" fill="#fff" opacity="0.95">BATHROOM</text>
<text x="971" y="1028" font-size="11.6" font-family="'Liberation Sans','Noto Sans CJK SC',sans-serif" fill="#fff" stroke="#fff" stroke-width="0.6" opacity="0.8">储物间</text>
<text x="968.2" y="1039" font-size="10" font-weight="bold" letter-spacing="2.4" font-family="'Liberation Serif',serif" stroke="none" fill="#fff" opacity="0.95">STORAGE</text>
<text x="886" y="1201.5" font-size="11.9" font-family="'Liberation Sans','Noto Sans CJK SC',sans-serif" fill="#fff" stroke="#fff" stroke-width="0.6" opacity="0.8">保姆间</text>
<text x="872" y="1214" font-size="10" font-weight="bold" letter-spacing="4.5" font-family="'Liberation Serif',serif" stroke="none" fill="#fff" opacity="0.95">NANNY ROOM</text>
<text x="735" y="1219.5" font-size="12.1" font-family="'Liberation Sans','Noto Sans CJK SC',sans-serif" fill="#fff" stroke="#fff" stroke-width="0.6" opacity="0.8">洗衣间</text>
<text x="716" y="1232" font-size="10" font-weight="bold" letter-spacing="4.66" font-family="'Liberation Serif',serif" stroke="none" fill="#fff" opacity="0.95">WASHING ROOM</text>
<text x="970" y="1193" font-size="11.6" font-family="'Liberation Sans','Noto Sans CJK SC',sans-serif" fill="#fff" stroke="#fff" stroke-width="0.6" opacity="0.8">卫生间</text>
<text x="966" y="1205.5" font-size="10" font-weight="bold" letter-spacing="2.6" font-family="'Liberation Serif',serif" stroke="none" fill="#fff" opacity="0.95">BATHROO</text>
<text x="967" y="1132" font-size="11.6" font-family="'Liberation Sans','Noto Sans CJK SC',sans-serif" fill="#fff" stroke="#fff" stroke-width="0.6" opacity="0.8">储藏室</text>
<text x="957.1" y="1144" font-size="10" font-weight="bold" letter-spacing="2.37" font-family="'Liberation Serif',serif" stroke="none" fill="#fff" opacity="0.95">COOLERND</text>
<text x="887" y="729" font-size="7" font-weight="bold" letter-spacing="0.5" font-family="'Liberation Serif',serif" stroke="none" fill="#fff" opacity="0.95">UP</text>
<text x="889" y="778.5" font-size="7" font-weight="bold" letter-spacing="0.5" font-family="'Liberation Serif',serif" stroke="none" fill="#fff" opacity="0.95">DN</text>
<rect x="1026.3" y="880.5" width="12.9" height="78" stroke="none" style="fill:var(--pil)"/>
<rect x="1026.3" y="685" width="12.9" height="18" stroke="none" style="fill:var(--pil)"/>
<path d="M1024.6 891L1024.6 942" stroke-width="1.6"/></g></defs><rect width="2560" height="1440" fill="#000"/><g font-family="Liberation Serif, serif" font-weight="bold" font-size="93.5" ><text x="0" y="0" letter-spacing="-7.8" stroke="none" fill="url(#gold1)" transform="translate(47.2 120.8) scale(1.11 1)">DESIGN</text><text x="0" y="0" letter-spacing="-7.8" stroke="none" fill="url(#gold2)" transform="translate(416.4 120.8) scale(1.11 1)">THEME-B1F</text></g><text x="47.5" y="222" font-size="35.5" font-family="'Liberation Sans','Noto Sans CJK SC',sans-serif" fill="#b5895a">平面优化</text><g style="--pil:#000"><use href="#shell"/><g fill="none" stroke="#fff"><circle cx="778.4" cy="544.2" r="47" stroke-width="1.8"/>
<circle cx="778.4" cy="544.2" r="44" stroke-width="1.5"/>
<circle cx="778.4" cy="544.2" r="26" stroke-width="2"/>
<path d="M753.6 547L781.2 519.4" stroke-width="1.9"/>
<path d="M754.4 551.2L785.4 520.2" stroke-width="1.9"/>
<path d="M757.6 558L792.2 523.4" stroke-width="1.9"/>
<path d="M759.8 560.8L795 525.6" stroke-width="1.9"/>
<path d="M765.2 565.4L799.6 531" stroke-width="1.9"/>
<path d="M768.5 567.1L801.3 534.3" stroke-width="1.9"/>
<path d="M773.8 568.8L803 539.6" stroke-width="1.9"/>
<path d="M-11.5 -9.5Q0 -14 11.5 -9.5L10 11.5L-10 11.5Z" stroke-width="1.8" transform="translate(778.4 485.9) rotate(180)"/>
<path d="M-8.1 -6.5Q0 -9.5 8.1 -6.5L7.5 9L-7.5 9Z" stroke-width="1.8" transform="translate(778.4 485.9) rotate(180)"/>
<circle cx="778.4" cy="507.7" r="5.2" stroke-width="1.6"/>
<circle cx="778.4" cy="507.7" r="2.2" stroke-width="1.4"/>
<path d="M771.2 503.7v8M785.6 503.7v8" stroke-width="1.4" transform="rotate(0 778.4 507.7)"/>
<path d="M-11.5 -9.5Q0 -14 11.5 -9.5L10 11.5L-10 11.5Z" stroke-width="1.8" transform="translate(807.5 493.7) rotate(210)"/>
<path d="M-8.1 -6.5Q0 -9.5 8.1 -6.5L7.5 9L-7.5 9Z" stroke-width="1.8" transform="translate(807.5 493.7) rotate(210)"/>
<circle cx="796.6" cy="512.6" r="5.2" stroke-width="1.6"/>
<circle cx="796.6" cy="512.6" r="2.2" stroke-width="1.4"/>
<path d="M789.4 508.6v8M803.9 508.6v8" stroke-width="1.4" transform="rotate(30 796.6 512.6)"/>
<path d="M-11.5 -9.5Q0 -14 11.5 -9.5L10 11.5L-10 11.5Z" stroke-width="1.8" transform="translate(828.9 515.1) rotate(240)"/>
<path d="M-8.1 -6.5Q0 -9.5 8.1 -6.5L7.5 9L-7.5 9Z" stroke-width="1.8" transform="translate(828.9 515.1) rotate(240)"/>
<circle cx="810" cy="526" r="5.2" stroke-width="1.6"/>
<circle cx="810" cy="526" r="2.2" stroke-width="1.4"/>
<path d="M802.8 522v8M817.2 522v8" stroke-width="1.4" transform="rotate(60 810 526)"/>
<path d="M-11.5 -9.5Q0 -14 11.5 -9.5L10 11.5L-10 11.5Z" stroke-width="1.8" transform="translate(836.7 544.2) rotate(270)"/>
<path d="M-8.1 -6.5Q0 -9.5 8.1 -6.5L7.5 9L-7.5 9Z" stroke-width="1.8" transform="translate(836.7 544.2) rotate(270)"/>
<circle cx="814.9" cy="544.2" r="5.2" stroke-width="1.6"/>
<circle cx="814.9" cy="544.2" r="2.2" stroke-width="1.4"/>
<path d="M807.7 540.2v8M822.1 540.2v8" stroke-width="1.4" transform="rotate(90 814.9 544.2)"/>
<path d="M-11.5 -9.5Q0 -14 11.5 -9.5L10 11.5L-10 11.5Z" stroke-width="1.8" transform="translate(828.9 573.4) rotate(300)"/>
<path d="M-8.1 -6.5Q0 -9.5 8.1 -6.5L7.5 9L-7.5 9Z" stroke-width="1.8" transform="translate(828.9 573.4) rotate(300)"/>
<circle cx="810" cy="562.5" r="5.2" stroke-width="1.6"/>
<circle cx="810" cy="562.5" r="2.2" stroke-width="1.4"/>
<path d="M802.8 558.5v8M817.2 558.5v8" stroke-width="1.4" transform="rotate(120 810 562.5)"/>
<path d="M-11.5 -9.5Q0 -14 11.5 -9.5L10 11.5L-10 11.5Z" stroke-width="1.8" transform="translate(807.5 594.7) rotate(330)"/>
<path d="M-8.1 -6.5Q0 -9.5 8.1 -6.5L7.5 9L-7.5 9Z" stroke-width="1.8" transform="translate(807.5 594.7) rotate(330)"/>
<circle cx="796.6" cy="575.8" r="5.2" stroke-width="1.6"/>
<circle cx="796.6" cy="575.8" r="2.2" stroke-width="1.4"/>
<path d="M789.4 571.8v8M803.9 571.8v8" stroke-width="1.4" transform="rotate(150 796.6 575.8)"/>
<path d="M-11.5 -9.5Q0 -14 11.5 -9.5L10 11.5L-10 11.5Z" stroke-width="1.8" transform="translate(778.4 602.5) rotate(360)"/>
<path d="M-8.1 -6.5Q0 -9.5 8.1 -6.5L7.5 9L-7.5 9Z" stroke-width="1.8" transform="translate(778.4 602.5) rotate(360)"/>
<circle cx="778.4" cy="580.7" r="5.2" stroke-width="1.6"/>
<circle cx="778.4" cy="580.7" r="2.2" stroke-width="1.4"/>
<path d="M771.2 576.7v8M785.6 576.7v8" stroke-width="1.4" transform="rotate(180 778.4 580.7)"/>
<path d="M-11.5 -9.5Q0 -14 11.5 -9.5L10 11.5L-10 11.5Z" stroke-width="1.8" transform="translate(749.2 594.7) rotate(390)"/>
<path d="M-8.1 -6.5Q0 -9.5 8.1 -6.5L7.5 9L-7.5 9Z" stroke-width="1.8" transform="translate(749.2 594.7) rotate(390)"/>
<circle cx="760.1" cy="575.8" r="5.2" stroke-width="1.6"/>
<circle cx="760.1" cy="575.8" r="2.2" stroke-width="1.4"/>
<path d="M752.9 571.8v8M767.4 571.8v8" stroke-width="1.4" transform="rotate(210 760.1 575.8)"/>
<path d="M-11.5 -9.5Q0 -14 11.5 -9.5L10 11.5L-10 11.5Z" stroke-width="1.8" transform="translate(727.9 573.4) rotate(420)"/>
<path d="M-8.1 -6.5Q0 -9.5 8.1 -6.5L7.5 9L-7.5 9Z" stroke-width="1.8" transform="translate(727.9 573.4) rotate(420)"/>
<circle cx="746.8" cy="562.5" r="5.2" stroke-width="1.6"/>
<circle cx="746.8" cy="562.5" r="2.2" stroke-width="1.4"/>
<path d="M739.6 558.5v8M754 558.5v8" stroke-width="1.4" transform="rotate(240 746.8 562.5)"/>
<path d="M-11.5 -9.5Q0 -14 11.5 -9.5L10 11.5L-10 11.5Z" stroke-width="1.8" transform="translate(720.1 544.2) rotate(450)"/>
<path d="M-8.1 -6.5Q0 -9.5 8.1 -6.5L7.5 9L-7.5 9Z" stroke-width="1.8" transform="translate(720.1 544.2) rotate(450)"/>
<circle cx="741.9" cy="544.2" r="5.2" stroke-width="1.6"/>
<circle cx="741.9" cy="544.2" r="2.2" stroke-width="1.4"/>
<path d="M734.7 540.2v8M749.1 540.2v8" stroke-width="1.4" transform="rotate(270 741.9 544.2)"/>
<path d="M-11.5 -9.5Q0 -14 11.5 -9.5L10 11.5L-10 11.5Z" stroke-width="1.8" transform="translate(727.9 515.1) rotate(480)"/>
<path d="M-8.1 -6.5Q0 -9.5 8.1 -6.5L7.5 9L-7.5 9Z" stroke-width="1.8" transform="translate(727.9 515.1) rotate(480)"/>
<circle cx="746.8" cy="526" r="5.2" stroke-width="1.6"/>
<circle cx="746.8" cy="526" r="2.2" stroke-width="1.4"/>
<path d="M739.6 522v8M754 522v8" stroke-width="1.4" transform="rotate(300 746.8 526)"/>
<path d="M-11.5 -9.5Q0 -14 11.5 -9.5L10 11.5L-10 11.5Z" stroke-width="1.8" transform="translate(749.2 493.7) rotate(510)"/>
<path d="M-8.1 -6.5Q0 -9.5 8.1 -6.5L7.5 9L-7.5 9Z" stroke-width="1.8" transform="translate(749.2 493.7) rotate(510)"/>
<circle cx="760.1" cy="512.6" r="5.2" stroke-width="1.6"/>
<circle cx="760.1" cy="512.6" r="2.2" stroke-width="1.4"/>
<path d="M752.9 508.6v8M767.4 508.6v8" stroke-width="1.4" transform="rotate(330 760.1 512.6)"/>
<rect x="890" y="453.6" width="78.3" height="38.3" stroke-width="1.9" stroke-dasharray="9 2.2"/>
<rect x="895.5" y="458.1" width="71.3" height="32.3" stroke-width="1.6" stroke-dasharray="11 2.5"/>
<path d="M898 462.6h12v4h4v-6h22v8h-22" stroke-width="1.6"/>
<rect x="890" y="595" width="78.3" height="39" stroke-width="1.9" stroke-dasharray="9 2.2"/>
<rect x="895.5" y="599.5" width="71.3" height="33" stroke-width="1.6" stroke-dasharray="11 2.5"/>
<path d="M898 625h12v-4h4v6h22v-8h-22" stroke-width="1.6"/>
<rect x="897.2" y="515.3" width="65.6" height="53.1" stroke-width="1.9" stroke-dasharray="9 2.4"/>
<rect x="900.3" y="518.4" width="59.4" height="46.9" stroke-width="1.6" stroke-dasharray="11 2.6"/>
<circle cx="980.8" cy="470.8" r="8.6" stroke-width="1.6"/>
<circle cx="980.8" cy="470.8" r="4.7" stroke-width="1.4"/>
<path d="M970.2 470.8L991.4 470.8" stroke-width="1.4"/>
<path d="M980.8 460.2L980.8 481.4" stroke-width="1.4"/>
<path d="M974.8 464.8L986.8 476.8" stroke-width="1.2"/>
<path d="M986.8 464.8L974.8 476.8" stroke-width="1.2"/>
<circle cx="980.8" cy="617.7" r="8.6" stroke-width="1.6"/>
<circle cx="980.8" cy="617.7" r="4.7" stroke-width="1.4"/>
<path d="M970.2 617.7L991.4 617.7" stroke-width="1.4"/>
<path d="M980.8 607.1L980.8 628.3" stroke-width="1.4"/>
<path d="M974.8 611.7L986.8 623.7" stroke-width="1.2"/>
<path d="M986.8 611.7L974.8 623.7" stroke-width="1.2"/>
<path d="M-11 -13L11 -13Q15 0 9 10L-9 10Q0 16 -11 -13Z" stroke-width="1.8" transform="translate(996.4 495) rotate(-62)"/>
<path d="M-8 -10L8 -10L6 6L-6 6Z" stroke-width="1.5" transform="translate(996.4 495) rotate(-62)"/>
<path d="M-11 -13L11 -13Q15 0 9 10L-9 10Q0 16 -11 -13Z" stroke-width="1.8" transform="translate(996.4 593.5) rotate(-118)"/>
<path d="M-8 -10L8 -10L6 6L-6 6Z" stroke-width="1.5" transform="translate(996.4 593.5) rotate(-118)"/>
<rect x="1009.7" y="506" width="13.3" height="78.8" stroke-width="1.9"/>
<rect x="1015" y="522.3" width="3.6" height="43" stroke-width="1.5"/>
<rect x="1005.8" y="421.5" width="17.2" height="49.3" stroke-width="2"/>
<path d="M1008.3 424L1020.5 468.3" stroke-width="2"/>
<path d="M1020.5 424L1008.3 468.3" stroke-width="2"/>
<rect x="1005.8" y="617.7" width="17.2" height="49.2" stroke-width="2"/>
<path d="M1008.3 620.2L1020.5 664.4" stroke-width="2"/>
<path d="M1020.5 620.2L1008.3 664.4" stroke-width="2"/>
<path d="M1021 484q-4 0 -4 3t4 3M1021 598q-4 0 -4 3t4 3" stroke-width="1.5"/>
<path d="M1024.5 418L1024.5 668" stroke-width="1.4"/>
<text x="855" y="565.5" font-size="11.9" font-family="'Liberation Sans','Noto Sans CJK SC',sans-serif" fill="#fff" stroke="#fff" stroke-width="0.6" opacity="0.8">宴会厅</text>
<text x="847" y="582.5" font-size="12" font-weight="bold" letter-spacing="2.47" font-family="'Liberation Serif',serif" stroke="none" fill="#fff" opacity="0.95">BANQUET HALL</text>
<text x="779" y="729" font-size="12.1" font-family="'Liberation Sans','Noto Sans CJK SC',sans-serif" fill="#fff" stroke="#fff" stroke-width="0.6" opacity="0.8">餐厅</text>
<text x="756.6" y="740.5" font-size="12" font-weight="bold" letter-spacing="3.82" font-family="'Liberation Serif',serif" stroke="none" fill="#fff" opacity="0.95">DINING ROOM</text>
<rect x="772.2" y="763" width="39.8" height="132.5" stroke-width="1.9"/>
<path d="M772.2 777.8H752.6V797.8H772.2V794.6H755.8V781H772.2Z" stroke-width="1.5"/>
<path d="M760 781L760 794.6" stroke-width="1.2"/>
<path d="M812 777.8H831.5V797.8H812V794.6H828.3V781H812Z" stroke-width="1.5"/>
<path d="M824 781L824 794.6" stroke-width="1.2"/>
<path d="M772.2 775.3L812 775.3" stroke-width="1.4"/>
<circle cx="791.8" cy="782.3" r="6.2" stroke-width="1.6"/>
<circle cx="791.8" cy="782.3" r="2.6" stroke-width="1.2"/>
<circle cx="791.8" cy="792.8" r="5" stroke-width="1.5"/>
<path d="M772.2 803.6H752.6V823.6H772.2V820.4H755.8V806.8H772.2Z" stroke-width="1.5"/>
<path d="M760 806.8L760 820.4" stroke-width="1.2"/>
<path d="M812 803.6H831.5V823.6H812V820.4H828.3V806.8H812Z" stroke-width="1.5"/>
<path d="M824 806.8L824 820.4" stroke-width="1.2"/>
<path d="M772.2 801.1L812 801.1" stroke-width="1.4"/>
<circle cx="791.8" cy="808.1" r="6.2" stroke-width="1.6"/>
<circle cx="791.8" cy="808.1" r="2.6" stroke-width="1.2"/>
<circle cx="791.8" cy="818.6" r="5" stroke-width="1.5"/>
<path d="M772.2 829.4H752.6V849.4H772.2V846.2H755.8V832.6H772.2Z" stroke-width="1.5"/>
<path d="M760 832.6L760 846.2" stroke-width="1.2"/>
<path d="M812 829.4H831.5V849.4H812V846.2H828.3V832.6H812Z" stroke-width="1.5"/>
<path d="M824 832.6L824 846.2" stroke-width="1.2"/>
<path d="M772.2 826.9L812 826.9" stroke-width="1.4"/>
<circle cx="791.8" cy="833.9" r="6.2" stroke-width="1.6"/>
<circle cx="791.8" cy="833.9" r="2.6" stroke-width="1.2"/>
<circle cx="791.8" cy="844.4" r="5" stroke-width="1.5"/>
<path d="M772.2 854.4H752.6V874.4H772.2V871.2H755.8V857.6H772.2Z" stroke-width="1.5"/>
<path d="M760 857.6L760 871.2" stroke-width="1.2"/>
<path d="M812 854.4H831.5V874.4H812V871.2H828.3V857.6H812Z" stroke-width="1.5"/>
<path d="M824 857.6L824 871.2" stroke-width="1.2"/>
<path d="M772.2 851.9L812 851.9" stroke-width="1.4"/>
<circle cx="791.8" cy="858.9" r="6.2" stroke-width="1.6"/>
<circle cx="791.8" cy="858.9" r="2.6" stroke-width="1.2"/>
<circle cx="791.8" cy="869.4" r="5" stroke-width="1.5"/>
<path d="M791.8 763L791.8 895" stroke-width="1.2"/>
<path d="M-10 -8Q0 -12.5 10 -8L8.5 10L-8.5 10Z" stroke-width="1.6" transform="translate(798.8 752.8) rotate(25)"/>
<path d="M-6.6 -5Q0 -8 6.6 -5L6 7.5L-6 7.5Z" stroke-width="1.6" transform="translate(798.8 752.8) rotate(25)"/>
<path d="M-10 -8Q0 -12.5 10 -8L8.5 10L-8.5 10Z" stroke-width="1.6" transform="translate(797 905) rotate(200)"/>
<path d="M-6.6 -5Q0 -8 6.6 -5L6 7.5L-6 7.5Z" stroke-width="1.6" transform="translate(797 905) rotate(200)"/>
<path d="M796 764q6 6 0 10" stroke-width="1.5"/></g></g><g transform="matrix(1 0 0 0.9966 1222 0.8295999999999899)" style="--pil:#2a2a2a"><use href="#shell"/><rect x="544.2" y="233.6" width="494.4" height="20" fill="#2b2b2b"/><rect x="655" y="230.2" width="24" height="4" fill="#2b2b2b"/><rect x="1023" y="230.2" width="15.6" height="4" fill="#2b2b2b"/><rect x="443.6" y="247" width="81.4" height="3" fill="#fff"/><rect x="529.5" y="247" width="2.6" height="3" fill="#fff"/><rect x="539" y="247" width="2.6" height="3" fill="#fff"/></g><g transform="translate(1222 0)"><g fill="none" stroke="#fff"><circle cx="784.2" cy="539.7" r="47" stroke-width="1.8"/>
<circle cx="784.2" cy="539.7" r="44" stroke-width="1.5"/>
<circle cx="784.2" cy="539.7" r="26" stroke-width="2"/>
<path d="M759.4 542.5L787 514.9" stroke-width="1.9"/>
<path d="M760.2 546.7L791.2 515.7" stroke-width="1.9"/>
<path d="M763.4 553.5L798 518.9" stroke-width="1.9"/>
<path d="M765.6 556.3L800.8 521.1" stroke-width="1.9"/>
<path d="M771 560.9L805.4 526.5" stroke-width="1.9"/>
<path d="M774.3 562.6L807.1 529.8" stroke-width="1.9"/>
<path d="M779.6 564.3L808.8 535.1" stroke-width="1.9"/>
<path d="M-11.5 -9.5Q0 -14 11.5 -9.5L10 11.5L-10 11.5Z" stroke-width="1.8" transform="translate(784.2 481.4) rotate(180)"/>
<path d="M-8.1 -6.5Q0 -9.5 8.1 -6.5L7.5 9L-7.5 9Z" stroke-width="1.8" transform="translate(784.2 481.4) rotate(180)"/>
<circle cx="784.2" cy="503.2" r="5.2" stroke-width="1.6"/>
<circle cx="784.2" cy="503.2" r="2.2" stroke-width="1.4"/>
<path d="M777 499.2v8M791.4 499.2v8" stroke-width="1.4" transform="rotate(0 784.2 503.2)"/>
<path d="M-11.5 -9.5Q0 -14 11.5 -9.5L10 11.5L-10 11.5Z" stroke-width="1.8" transform="translate(813.4 489.2) rotate(210)"/>
<path d="M-8.1 -6.5Q0 -9.5 8.1 -6.5L7.5 9L-7.5 9Z" stroke-width="1.8" transform="translate(813.4 489.2) rotate(210)"/>
<circle cx="802.5" cy="508.1" r="5.2" stroke-width="1.6"/>
<circle cx="802.5" cy="508.1" r="2.2" stroke-width="1.4"/>
<path d="M795.2 504.1v8M809.7 504.1v8" stroke-width="1.4" transform="rotate(30 802.5 508.1)"/>
<path d="M-11.5 -9.5Q0 -14 11.5 -9.5L10 11.5L-10 11.5Z" stroke-width="1.8" transform="translate(834.7 510.6) rotate(240)"/>
<path d="M-8.1 -6.5Q0 -9.5 8.1 -6.5L7.5 9L-7.5 9Z" stroke-width="1.8" transform="translate(834.7 510.6) rotate(240)"/>
<circle cx="815.8" cy="521.5" r="5.2" stroke-width="1.6"/>
<circle cx="815.8" cy="521.5" r="2.2" stroke-width="1.4"/>
<path d="M808.6 517.5v8M823 517.5v8" stroke-width="1.4" transform="rotate(60 815.8 521.5)"/>
<path d="M-11.5 -9.5Q0 -14 11.5 -9.5L10 11.5L-10 11.5Z" stroke-width="1.8" transform="translate(842.5 539.7) rotate(270)"/>
<path d="M-8.1 -6.5Q0 -9.5 8.1 -6.5L7.5 9L-7.5 9Z" stroke-width="1.8" transform="translate(842.5 539.7) rotate(270)"/>
<circle cx="820.7" cy="539.7" r="5.2" stroke-width="1.6"/>
<circle cx="820.7" cy="539.7" r="2.2" stroke-width="1.4"/>
<path d="M813.5 535.7v8M827.9 535.7v8" stroke-width="1.4" transform="rotate(90 820.7 539.7)"/>
<path d="M-11.5 -9.5Q0 -14 11.5 -9.5L10 11.5L-10 11.5Z" stroke-width="1.8" transform="translate(834.7 568.9) rotate(300)"/>
<path d="M-8.1 -6.5Q0 -9.5 8.1 -6.5L7.5 9L-7.5 9Z" stroke-width="1.8" transform="translate(834.7 568.9) rotate(300)"/>
<circle cx="815.8" cy="558" r="5.2" stroke-width="1.6"/>
<circle cx="815.8" cy="558" r="2.2" stroke-width="1.4"/>
<path d="M808.6 554v8M823 554v8" stroke-width="1.4" transform="rotate(120 815.8 558)"/>
<path d="M-11.5 -9.5Q0 -14 11.5 -9.5L10 11.5L-10 11.5Z" stroke-width="1.8" transform="translate(813.4 590.2) rotate(330)"/>
<path d="M-8.1 -6.5Q0 -9.5 8.1 -6.5L7.5 9L-7.5 9Z" stroke-width="1.8" transform="translate(813.4 590.2) rotate(330)"/>
<circle cx="802.5" cy="571.3" r="5.2" stroke-width="1.6"/>
<circle cx="802.5" cy="571.3" r="2.2" stroke-width="1.4"/>
<path d="M795.2 567.3v8M809.7 567.3v8" stroke-width="1.4" transform="rotate(150 802.5 571.3)"/>
<path d="M-11.5 -9.5Q0 -14 11.5 -9.5L10 11.5L-10 11.5Z" stroke-width="1.8" transform="translate(784.2 598) rotate(360)"/>
<path d="M-8.1 -6.5Q0 -9.5 8.1 -6.5L7.5 9L-7.5 9Z" stroke-width="1.8" transform="translate(784.2 598) rotate(360)"/>
<circle cx="784.2" cy="576.2" r="5.2" stroke-width="1.6"/>
<circle cx="784.2" cy="576.2" r="2.2" stroke-width="1.4"/>
<path d="M777 572.2v8M791.4 572.2v8" stroke-width="1.4" transform="rotate(180 784.2 576.2)"/>
<path d="M-11.5 -9.5Q0 -14 11.5 -9.5L10 11.5L-10 11.5Z" stroke-width="1.8" transform="translate(755.1 590.2) rotate(390)"/>
<path d="M-8.1 -6.5Q0 -9.5 8.1 -6.5L7.5 9L-7.5 9Z" stroke-width="1.8" transform="translate(755.1 590.2) rotate(390)"/>
<circle cx="766" cy="571.3" r="5.2" stroke-width="1.6"/>
<circle cx="766" cy="571.3" r="2.2" stroke-width="1.4"/>
<path d="M758.8 567.3v8M773.2 567.3v8" stroke-width="1.4" transform="rotate(210 766 571.3)"/>
<path d="M-11.5 -9.5Q0 -14 11.5 -9.5L10 11.5L-10 11.5Z" stroke-width="1.8" transform="translate(733.7 568.9) rotate(420)"/>
<path d="M-8.1 -6.5Q0 -9.5 8.1 -6.5L7.5 9L-7.5 9Z" stroke-width="1.8" transform="translate(733.7 568.9) rotate(420)"/>
<circle cx="752.6" cy="558" r="5.2" stroke-width="1.6"/>
<circle cx="752.6" cy="558" r="2.2" stroke-width="1.4"/>
<path d="M745.4 554v8M759.8 554v8" stroke-width="1.4" transform="rotate(240 752.6 558)"/>
<path d="M-11.5 -9.5Q0 -14 11.5 -9.5L10 11.5L-10 11.5Z" stroke-width="1.8" transform="translate(725.9 539.7) rotate(450)"/>
<path d="M-8.1 -6.5Q0 -9.5 8.1 -6.5L7.5 9L-7.5 9Z" stroke-width="1.8" transform="translate(725.9 539.7) rotate(450)"/>
<circle cx="747.7" cy="539.7" r="5.2" stroke-width="1.6"/>
<circle cx="747.7" cy="539.7" r="2.2" stroke-width="1.4"/>
<path d="M740.5 535.7v8M754.9 535.7v8" stroke-width="1.4" transform="rotate(270 747.7 539.7)"/>
<path d="M-11.5 -9.5Q0 -14 11.5 -9.5L10 11.5L-10 11.5Z" stroke-width="1.8" transform="translate(733.7 510.6) rotate(480)"/>
<path d="M-8.1 -6.5Q0 -9.5 8.1 -6.5L7.5 9L-7.5 9Z" stroke-width="1.8" transform="translate(733.7 510.6) rotate(480)"/>
<circle cx="752.6" cy="521.5" r="5.2" stroke-width="1.6"/>
<circle cx="752.6" cy="521.5" r="2.2" stroke-width="1.4"/>
<path d="M745.4 517.5v8M759.8 517.5v8" stroke-width="1.4" transform="rotate(300 752.6 521.5)"/>
<path d="M-11.5 -9.5Q0 -14 11.5 -9.5L10 11.5L-10 11.5Z" stroke-width="1.8" transform="translate(755.1 489.2) rotate(510)"/>
<path d="M-8.1 -6.5Q0 -9.5 8.1 -6.5L7.5 9L-7.5 9Z" stroke-width="1.8" transform="translate(755.1 489.2) rotate(510)"/>
<circle cx="766" cy="508.1" r="5.2" stroke-width="1.6"/>
<circle cx="766" cy="508.1" r="2.2" stroke-width="1.4"/>
<path d="M758.8 504.1v8M773.2 504.1v8" stroke-width="1.4" transform="rotate(330 766 508.1)"/>
<rect x="691" y="418.7" width="58.7" height="20.2" stroke-width="1.9"/>
<rect x="897.6" y="422" width="109.2" height="242.2" stroke-width="1.9" rx="9"/>
<rect x="899.6" y="424" width="105.2" height="238.2" stroke-width="1.2" rx="8"/>
<circle cx="913.6" cy="433" r="8.4" stroke-width="1.9"/>
<circle cx="913.6" cy="433" r="6.6" stroke-width="1.2"/>
<rect x="899.3" y="456.5" width="85.7" height="34.5" stroke-width="2"/>
<path d="M899.3 493.6L985 493.6" stroke-width="1.6"/>
<rect x="899.3" y="599.5" width="85.7" height="37" stroke-width="2"/>
<path d="M899.3 597L985 597" stroke-width="1.6"/>
<ellipse cx="945.5" cy="546.4" rx="24.4" ry="31" stroke-width="1.9"/>
<ellipse cx="945.5" cy="546.4" rx="22.6" ry="29.2" stroke-width="1.2"/>
<circle cx="994.2" cy="472.5" r="8.6" stroke-width="1.6"/>
<circle cx="994.2" cy="472.5" r="4.7" stroke-width="1.4"/>
<path d="M983.6 472.5L1004.8 472.5" stroke-width="1.4"/>
<path d="M994.2 461.9L994.2 483.1" stroke-width="1.4"/>
<path d="M988.2 466.5L1000.2 478.5" stroke-width="1.2"/>
<path d="M1000.2 466.5L988.2 478.5" stroke-width="1.2"/>
<circle cx="994.2" cy="619.7" r="8.6" stroke-width="1.6"/>
<circle cx="994.2" cy="619.7" r="4.7" stroke-width="1.4"/>
<path d="M983.6 619.7L1004.8 619.7" stroke-width="1.4"/>
<path d="M994.2 609.1L994.2 630.3" stroke-width="1.4"/>
<path d="M988.2 613.7L1000.2 625.7" stroke-width="1.2"/>
<path d="M1000.2 613.7L988.2 625.7" stroke-width="1.2"/>
<rect x="1007.7" y="420" width="14.3" height="244" stroke-width="1.8"/>
<path d="M1007.7 475.9L1022 475.9" stroke-width="1.6"/>
<path d="M1007.7 503.6L1022 503.6" stroke-width="1.6"/>
<path d="M1007.7 581.7L1022 581.7" stroke-width="1.6"/>
<path d="M1007.7 610.4L1022 610.4" stroke-width="1.6"/>
<rect x="1012.7" y="521" width="5.3" height="44" stroke-width="1.5"/>
<path d="M1020 484q-4 0 -4 3t4 3M1020 592q-4 0 -4 3t4 3" stroke-width="1.5"/>
<text x="750.6" y="553.5" font-size="12" font-weight="bold" letter-spacing="3.38" font-family="'Liberation Serif',serif" stroke="none" fill="#fff" opacity="0.95">BANQUET HALL</text>
<text x="778" y="697" font-size="12.1" font-family="'Liberation Sans','Noto Sans CJK SC',sans-serif" fill="#fff" stroke="#fff" stroke-width="0.6" opacity="0.8">餐厅</text>
<text x="756.5" y="708.6" font-size="12" font-weight="bold" letter-spacing="3.72" font-family="'Liberation Serif',serif" stroke="none" fill="#fff" opacity="0.95">DINING ROOM</text>
<path d="M766.5 770A26 26 0 0 1 818.6 770V872A26 26 0 0 1 766.5 872Z" stroke-width="1.9"/>
<path d="M768.5 770A24 24 0 0 1 816.6 770V872A24 24 0 0 1 768.5 872Z" stroke-width="1.2"/>
<path d="M763.2 763.6H750.9V784.6H763.2V781.2H754.3V767H763.2Z" stroke-width="1.5"/>
<path d="M766.6 763.6H775.8V784.6H766.6V781.2H772.4V767H766.6Z" stroke-width="1.5"/>
<path d="M816.1 763.6H806.9V784.6H816.1V781.2H810.3V767H816.1Z" stroke-width="1.5"/>
<path d="M819.7 763.6H832V784.6H819.7V781.2H828.6V767H819.7Z" stroke-width="1.5"/>
<path d="M763.2 788H750.9V809H763.2V805.6H754.3V791.4H763.2Z" stroke-width="1.5"/>
<path d="M766.6 788H775.8V809H766.6V805.6H772.4V791.4H766.6Z" stroke-width="1.5"/>
<path d="M816.1 788H806.9V809H816.1V805.6H810.3V791.4H816.1Z" stroke-width="1.5"/>
<path d="M819.7 788H832V809H819.7V805.6H828.6V791.4H819.7Z" stroke-width="1.5"/>
<path d="M763.2 813.2H750.9V834.2H763.2V830.8H754.3V816.6H763.2Z" stroke-width="1.5"/>
<path d="M766.6 813.2H775.8V834.2H766.6V830.8H772.4V816.6H766.6Z" stroke-width="1.5"/>
<path d="M816.1 813.2H806.9V834.2H816.1V830.8H810.3V816.6H816.1Z" stroke-width="1.5"/>
<path d="M819.7 813.2H832V834.2H819.7V830.8H828.6V816.6H819.7Z" stroke-width="1.5"/>
<path d="M763.2 837.5H750.9V858.5H763.2V855.1H754.3V840.9H763.2Z" stroke-width="1.5"/>
<path d="M766.6 837.5H775.8V858.5H766.6V855.1H772.4V840.9H766.6Z" stroke-width="1.5"/>
<path d="M816.1 837.5H806.9V858.5H816.1V855.1H810.3V840.9H816.1Z" stroke-width="1.5"/>
<path d="M819.7 837.5H832V858.5H819.7V855.1H828.6V840.9H819.7Z" stroke-width="1.5"/>
<path d="M763.2 862.7H750.9V883.7H763.2V880.3H754.3V866.1H763.2Z" stroke-width="1.5"/>
<path d="M766.6 862.7H775.8V883.7H766.6V880.3H772.4V866.1H766.6Z" stroke-width="1.5"/>
<path d="M816.1 862.7H806.9V883.7H816.1V880.3H810.3V866.1H816.1Z" stroke-width="1.5"/>
<path d="M819.7 862.7H832V883.7H819.7V880.3H828.6V866.1H819.7Z" stroke-width="1.5"/>
<path d="M781.7 743.5V731H801.8V743.5H798.6V734.2H784.9V743.5Z" stroke-width="1.5"/>
<path d="M781.7 745.5V754.5H801.8V745.5H798.6V751.3H784.9V745.5Z" stroke-width="1.5"/>
<path d="M781.7 900.5V891.3H801.8V900.5H798.6V894.5H784.9V900.5Z" stroke-width="1.5"/>
<path d="M781.7 902.5V915.7H801.8V902.5H798.6V912.5H784.9V902.5Z" stroke-width="1.5"/>
<rect x="695.1" y="897.2" width="26.1" height="39.5" stroke-width="1.9"/></g><rect x="676.6" y="391" width="351.2" height="299.2" fill="rgb(192,99,36)" opacity="0.385"/><rect x="690" y="690.2" width="201.7" height="262.4" fill="rgb(192,99,36)" opacity="0.385"/><path d="M676.6 690.2H1027.8" stroke="#2a1608" stroke-width="1"/></g><text x="1213" y="0" font-size="32" font-family="'Liberation Sans','Noto Sans CJK SC',sans-serif" fill="#fff" transform="translate(0 515.5) scale(1 1.05)" stroke="#fff" stroke-width="0.5">1.增配酒柜及移动餐车</text><text x="1186" y="0" font-size="32" font-family="'Liberation Sans','Noto Sans CJK SC',sans-serif" fill="#fff" transform="translate(0 834.5) scale(1 1.05)" stroke="#fff" stroke-width="0.5">1.优化空间动线尺寸由</text><text x="1186" y="0" font-size="32" font-family="'Liberation Sans','Noto Sans CJK SC',sans-serif" fill="#fff" transform="translate(0 905) scale(1 1.05)" stroke="#fff" stroke-width="0.5">10人座扩充为12人座</text><text x="1185" y="0" font-size="32" font-family="'Liberation Sans','Noto Sans CJK SC',sans-serif" fill="#fff" transform="translate(0 970.5) scale(1 1.05)" stroke="#fff" stroke-width="0.5">2.增加家具舒适度</text><text x="458" y="0" font-size="32" letter-spacing="10.1" font-family="'Liberation Sans','Noto Sans CJK SC',sans-serif" fill="#fff" transform="translate(0 1348) scale(1 1)" stroke="#fff" stroke-width="0.4">B1</text><text x="513.3" y="0" font-size="32" letter-spacing="10.4" font-family="'Liberation Sans','Noto Sans CJK SC',sans-serif" fill="#fff" transform="translate(0 1348) scale(1 1)" stroke="#fff" stroke-width="0.4">原始平面图</text><text x="729" y="0" font-size="32" font-family="'Liberation Sans','Noto Sans CJK SC',sans-serif" fill="#fff" transform="translate(0 1348) scale(1 1)" stroke="#fff" stroke-width="0.4">/</text><text x="1753" y="0" font-size="32" letter-spacing="10.1" font-family="'Liberation Sans','Noto Sans CJK SC',sans-serif" fill="#fff" transform="translate(0 1352) scale(1 1)" stroke="#fff" stroke-width="0.4">B1</text><text x="1808.5" y="0" font-size="32" letter-spacing="10.4" font-family="'Liberation Sans','Noto Sans CJK SC',sans-serif" fill="#fff" transform="translate(0 1352) scale(1 1)" stroke="#fff" stroke-width="0.4">优化平面图</text><text x="2024.5" y="0" font-size="32" font-family="'Liberation Sans','Noto Sans CJK SC',sans-serif" fill="#fff" transform="translate(0 1352) scale(1 1)" stroke="#fff" stroke-width="0.4">/</text><path d="M1604.7 502.2L1935 502.2" stroke="#fff" stroke-width="2.2"/><circle cx="1604.7" cy="502.2" r="7.8" fill="#fff"/><circle cx="1935" cy="502.2" r="7.8" fill="#fff"/><path d="M1578 821.9L1907.8 821.9" stroke="#fff" stroke-width="2.2"/><circle cx="1578" cy="821.9" r="7.8" fill="#fff"/><circle cx="1907.8" cy="821.9" r="7.8" fill="#fff"/></svg></body></html>
